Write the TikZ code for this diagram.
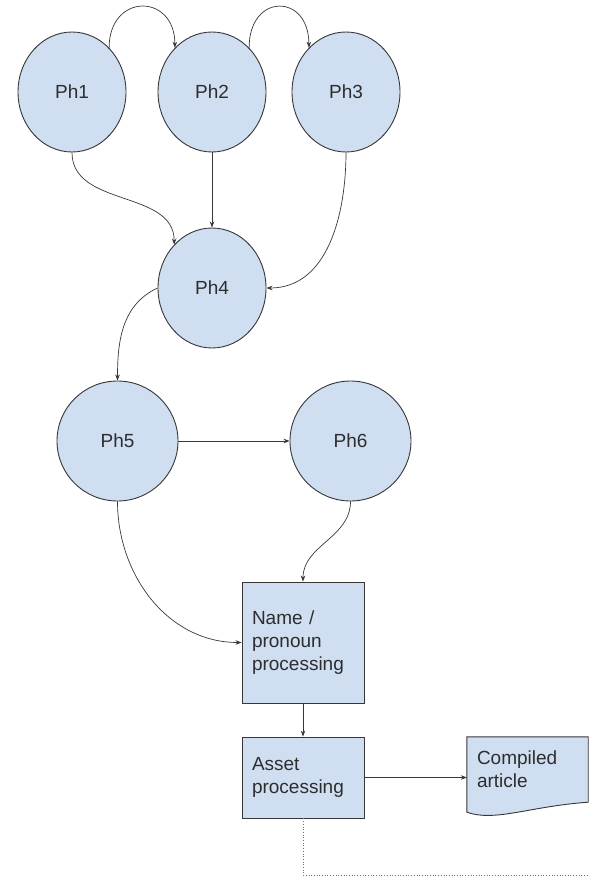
\documentclass[tikz,border=0pt]{standalone}
\usepackage{fontspec}
\setmainfont{Liberation Sans}
\usetikzlibrary{arrows.meta,shapes.geometric,backgrounds}
\definecolor{phblue}{RGB}{207,223,241}
\definecolor{linegray}{RGB}{55,55,55}
\definecolor{textgray}{RGB}{45,45,45}

\begin{document}
\begin{tikzpicture}[x=1pt, y=1pt,
    phase/.style={ellipse, draw=linegray, line width=0.9pt, fill=phblue, text=textgray,
      minimum width=108pt, minimum height=120pt, inner sep=0pt, font=\fontsize{19}{23}\selectfont},
    procbox/.style={rectangle, draw=linegray, line width=0.9pt, fill=phblue, text=textgray,
      align=left, text width=102pt, inner xsep=10pt, minimum width=122pt, font=\fontsize{19}{23}\selectfont},
    flow/.style={draw=linegray, line width=0.7pt, -{Stealth[length=6pt,width=4.5pt]}}]
  \useasboundingbox (0,0) rectangle (589,-883);

  \node (ph1) [phase] at (72,-92) {Ph1};
  \node (ph2) [phase, right of=ph1, node distance=140pt] {Ph2};
  \node (ph3) [phase, right of=ph2, node distance=134pt] {Ph3};
  \node (ph4) [phase, below of=ph2, node distance=196pt] {Ph4};
  \node (ph5) [phase, minimum width=121pt] at (117.5,-441) {Ph5};
  \node (ph6) [phase, minimum width=121pt, right of=ph5, node distance=233pt] {Ph6};
  \node (name) [procbox, minimum height=121pt] at (303,-642.5) {Name /\\pronoun\\processing};
  \node (asset) [procbox, minimum height=81pt, below of=name, node distance=135pt] {Asset\\processing};
  \node (article) [rectangle, align=left, text width=101pt, inner xsep=10pt, inner ysep=0pt,
    minimum height=64pt, text=textgray, font=\fontsize{19}{23}\selectfont] at (527.5,-769) {Compiled\\article};
  \coordinate (tail) at (589,-875);

  % wavy document outline behind the text
  \begin{scope}[on background layer]
    \draw[linegray, line width=0.9pt, fill=phblue] (article.north west) -- (article.north east)
      -- ([yshift=-1pt]article.south east)
      .. controls +(-58,-4) and +(28,-10) .. ([yshift=-11pt]article.south west) -- cycle;
  \end{scope}

  \draw[flow] (ph1.50) .. controls +(0,55) and +(0,55) .. (ph2.130);
  \draw[flow] (ph2.50) .. controls +(0,55) and +(0,55) .. (ph3.130);
  \draw[flow] (ph1.south) .. controls +(0,-55) and +(0,55) .. (ph4.131);
  \draw[flow] (ph2) -- (ph4);
  \draw[flow] (ph3.south) to [out=-90, in=0] (ph4.east);
  \draw[flow] (ph4.west) to [out=205, in=90] (ph5.north);
  \draw[flow] (ph5) -- (ph6);
  \draw[flow] (ph5.south) to [out=-90, in=180] (name.west);
  \draw[flow] (ph6.south) to [out=-90, in=90] (name.north);
  \draw[flow] (name) -- (asset);
  \draw[flow] (asset.east) -- (asset.east -| article.west);
  \draw[linegray!70, line width=0.7pt, dotted] (asset.south) |- (tail);
\end{tikzpicture}
\end{document}
